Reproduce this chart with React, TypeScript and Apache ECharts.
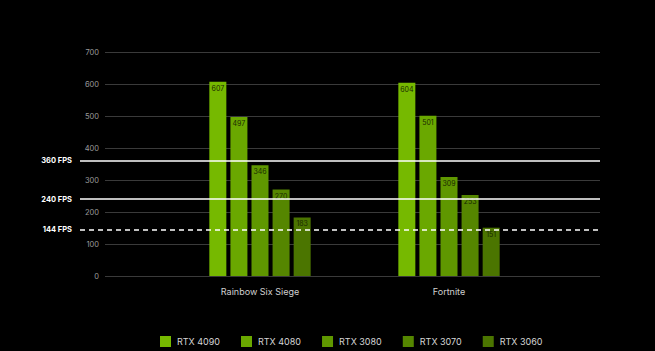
import React, { useEffect, useRef } from "react";
import * as echarts from "echarts";

const games = ["Rainbow Six Siege", "Fortnite"];
const gpus = ["RTX 4090", "RTX 4080", "RTX 3080", "RTX 3070", "RTX 3060"];
const fps4090 = [607, 604];
const fps4080 = [497, 501];
const fps3080 = [346, 309];
const fps3070 = [270, 253];
const fps3060 = [183, 151];
const seriesValues = [fps4090, fps4080, fps3080, fps3070, fps3060];
const gpuColors = ["#76b900", "#6aa800", "#5f9700", "#558600", "#4b7500"];
const yTicks = [0, 100, 200, 300, 400, 500, 600, 700];
const refLines = [
  { value: 360, label: "360 FPS", dashed: false },
  { value: 240, label: "240 FPS", dashed: false },
  { value: 144, label: "144 FPS", dashed: true },
];

const FONT = "Inter, 'Noto Sans', sans-serif";

export default function App() {
  const ref = useRef<HTMLDivElement>(null);
  useEffect(() => {
    if (!ref.current) return;
    const chart = echarts.init(ref.current, null, { renderer: "svg" });
    const top = 52;
    const height = 224;
    const yMin = yTicks[0];
    const yMax = yTicks[yTicks.length - 1];
    const barSeries = gpus.map((name, i) => ({
      name,
      type: "bar",
      xAxisIndex: 2,
      yAxisIndex: 2,
      data: seriesValues[i],
      barWidth: 17,
      barGap: "24%",
      itemStyle: { color: gpuColors[i] },
      label: {
        show: true,
        position: "insideTop",
        distance: 3,
        color: "#1a2a00",
        fontSize: 7,
        fontFamily: FONT,
      },
      z: 3,
    }));
    chart.setOption({
      animation: false,
      backgroundColor: "#000000",
      grid: [
        { left: 80, right: 55, top, height },
        { left: 105, right: 55, top, height },
        { left: 165.5, right: 111.5, top, height },
      ],
      xAxis: [
        { gridIndex: 0, type: "category", data: games, show: false },
        { gridIndex: 1, type: "category", data: games, show: false },
        {
          gridIndex: 2,
          type: "category",
          data: games,
          axisLine: { show: false },
          axisTick: { show: false },
          axisLabel: { color: "#d0d0d0", fontSize: 9, fontFamily: FONT, margin: 11 },
        },
      ],
      yAxis: [
        { gridIndex: 0, type: "value", min: yMin, max: yMax, interval: 100, show: false },
        {
          gridIndex: 1,
          type: "value",
          min: yMin,
          max: yMax,
          interval: 100,
          axisLine: { show: false },
          axisTick: { show: false },
          axisLabel: { color: "#9a9a9a", fontSize: 7.5, fontFamily: FONT, margin: 6 },
          splitLine: { lineStyle: { color: "#3a3a3a", width: 1 } },
        },
        { gridIndex: 2, type: "value", min: yMin, max: yMax, interval: 100, show: false },
      ],
      legend: {
        data: gpus,
        bottom: 4,
        left: 160,
        padding: 0,
        itemWidth: 11,
        itemHeight: 11,
        itemGap: 21,
        icon: "rect",
        textStyle: { color: "#d6d6d6", fontSize: 9, fontFamily: FONT, padding: [0, 0, 0, 1] },
      },
      series: [
        {
          type: "line",
          xAxisIndex: 0,
          yAxisIndex: 0,
          data: [],
          silent: true,
          markLine: {
            symbol: "none",
            silent: true,
            data: refLines.map((r) => ({
              yAxis: r.value,
              lineStyle: {
                color: "#ffffff",
                width: 1.5,
                type: r.dashed ? [5, 4] : "solid",
              },
              label: {
                show: true,
                position: "start",
                formatter: r.label,
                color: "#ffffff",
                fontSize: 7.5,
                fontWeight: "bold",
                fontFamily: FONT,
                distance: 8,
              },
            })),
          },
          z: 5,
        },
        ...barSeries,
      ],
    });
    return () => chart.dispose();
  }, []);
  return (
    <div
      ref={ref}
      style={{ position: "absolute", left: 0, top: 0, width: 655, height: 351 }}
    />
  );
}
